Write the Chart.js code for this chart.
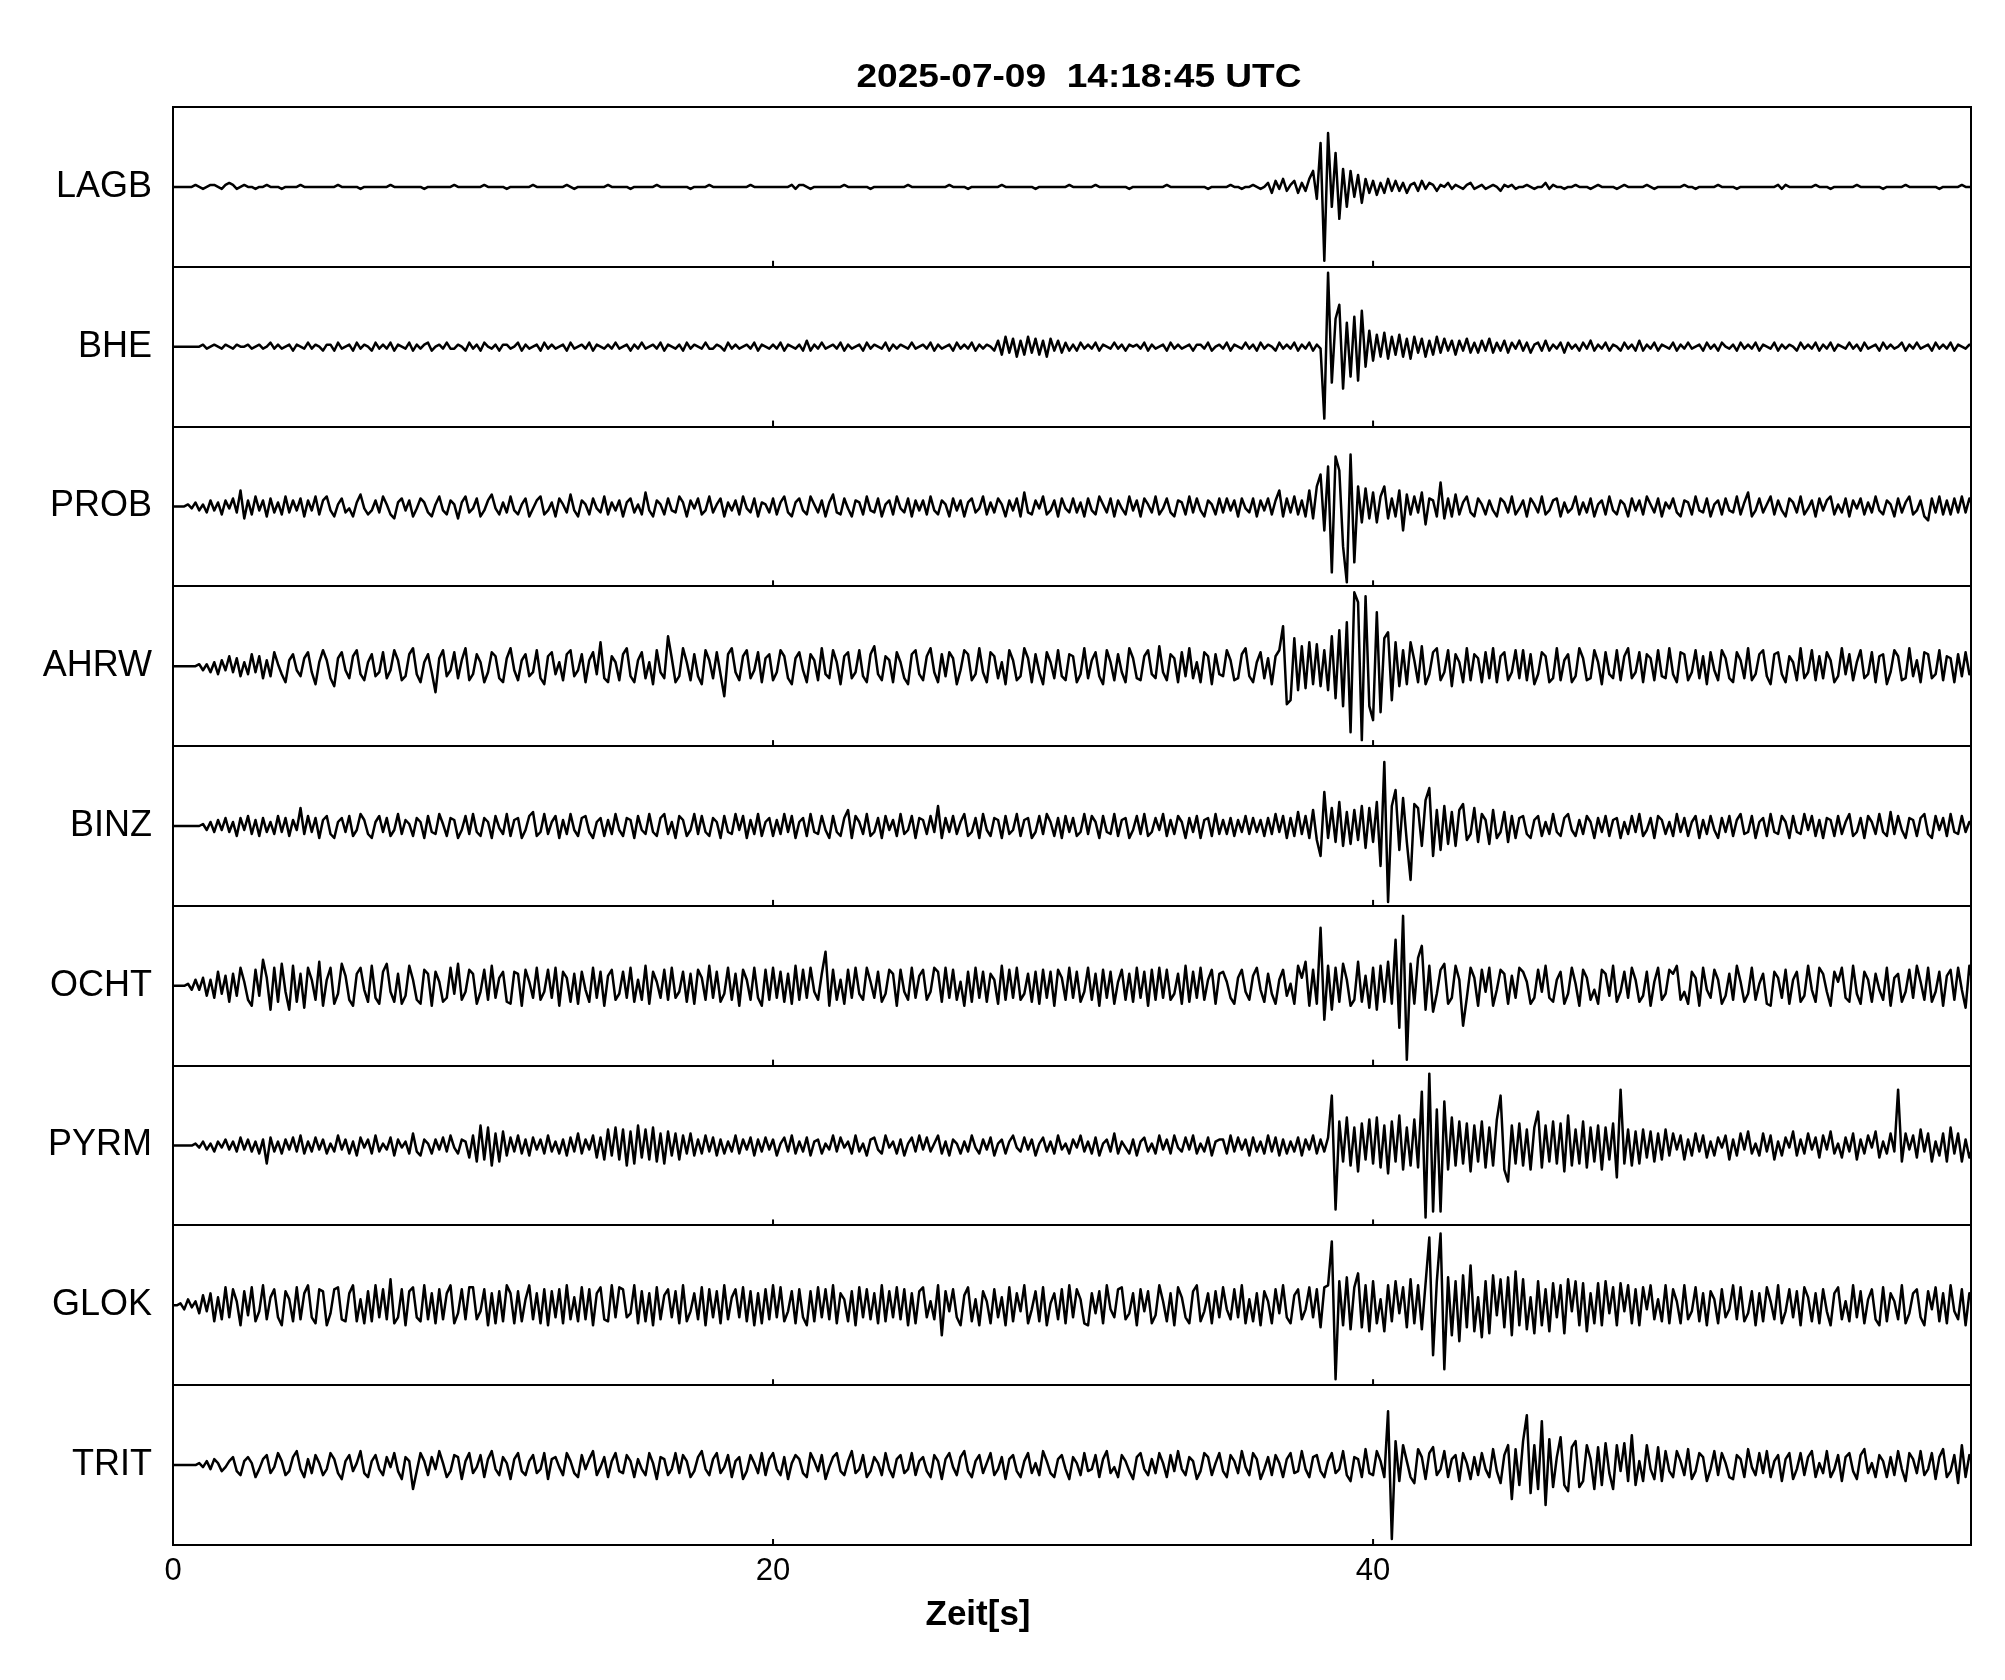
<!DOCTYPE html>
<html>
<head>
<meta charset="utf-8">
<script src="https://cdn.jsdelivr.net/npm/chart.js@4.4.1/dist/chart.umd.min.js"></script>
<style>
  html, body { margin: 0; padding: 0; background: #fff; }
  canvas { display: block; }
</style>
</head>
<body>
<canvas id="seis" width="2005" height="1680"></canvas>
<script>
const TITLE = '2025-07-09  14:18:45 UTC';
const X_LABEL = 'Zeit[s]';
const STATIONS = ['LAGB', 'BHE', 'PROB', 'AHRW', 'BINZ', 'OCHT', 'PYRM', 'GLOK', 'TRIT'];
const X_TICKS = [0, 20, 40];
const DT = 0.125;      // sample spacing of the traces (s)
const T_END = 59.93;   // right edge of the time axis (s)

// trace amplitudes, one value every DT seconds (+-40 = panel edge)
const lagb = [
  0,0,0,0,0,0,1,0, -1,0,1,1,0,-1,1,2, 1,-1,0,1,0,0,-1,0, 0,1,0,0,0,-1,0,0, 0,0,1,0,0,0,0,0,
  0,0,0,0,1,0,0,0, 0,0,-1,0,0,0,0,0, 0,0,1,0,0,0,0,0, 0,0,0,-1,0,0,0,0, 0,0,0,1,0,0,0,0,
  0,0,0,1,0,0,0,0, 0,-1,0,0,0,0,0,0, 1,0,0,0,0,0,0,0, 0,1,0,-1,0,0,0,0, 0,0,0,0,1,0,0,0,
  0,0,-1,0,0,0,0,0, 0,1,0,0,0,0,0,0, 0,0,-1,0,0,0,0,1, 0,0,0,0,0,0,0,0, 0,0,1,0,0,0,0,0,
  0,0,0,0,0,1,-1,1, 1,0,-1,0,0,0,0,0, 0,0,0,1,0,0,0,0, 0,0,-1,0,0,0,0,0, 0,0,0,0,1,0,0,0,
  0,0,0,0,0,0,0,1, 0,0,0,0,-1,0,0,0, 0,0,0,0,0,1,0,0, 0,0,0,0,0,0,-1,0, 0,0,0,0,0,0,0,1,
  0,0,0,0,0,0,1,0, 0,0,0,0,0,0,0,-1, 0,0,0,0,0,0,0,0, 0,1,0,0,0,0,0,0, 0,0,0,0,-1,0,0,0,
  0,0,1,0,0,-1,0,0, 1,0,-1,0,2,-3,3,-1, 4,-2,1,3,-3,2,-2,4, 8,-6,22,-37,27,-10,17,-16, 9,-10,8,-5,6,-8,4,-3,
  3,-4,2,-3,4,-2,3,-2, 2,-3,1,2,-2,3,-1,2, 1,-2,1,0,2,-1,1,0, -1,1,2,-1,0,1,-1,0, 1,0,-2,1,0,1,-1,0,
  0,1,0,-1,0,0,2,-1, 1,0,0,-1,0,0,1,0, 0,0,-1,0,1,0,0,0, 0,-1,0,1,0,0,0,0, 0,1,0,-1,0,0,0,0,
  0,0,0,1,0,0,-1,0, 0,0,0,0,1,0,0,0, 0,-1,0,0,0,0,0,0, 0,0,0,0,1,-1,1,0, 0,0,0,0,0,0,1,0,
  0,0,-1,0,0,0,0,0, 0,1,0,0,0,0,0,0, -1,0,0,0,0,0,1,0, 0,0,0,0,0,0,0,-1, 0,0,0,0,0,1,0,0,
  0
];
const bhe = [
  0,0,0,0,0,0,0,0, 1,-1,0,1,0,-1,1,0, -1,1,0,0,1,-1,0,1, -1,0,2,-1,1,-1,0,1, -2,1,0,-1,2,-1,1,0,
  -2,1,1,-2,2,-1,0,1, -2,2,-1,1,0,-2,2,-1, 1,-1,2,-2,1,0,-1,2, -2,1,-1,1,2,-2,0,1, -1,2,-1,-1,1,0,-2,2,
  -1,1,-2,2,0,-1,1,-2, 1,1,-1,0,2,-2,1,-1, 0,1,-2,2,-1,1,-1,0, 1,-2,2,-1,0,1,-1,2, -2,1,0,-1,1,-1,2,-1,
  0,1,-2,1,-1,2,-1,0, 1,-1,2,-2,1,0,-1,1, -2,2,-1,1,0,-1,2,-1, -1,1,0,-2,2,-1,1,-1, 0,1,-1,2,-2,1,0,-1,
  1,-1,2,-2,1,0,-1,1, -2,3,-2,1,-1,2,-1,0, 1,-1,2,-2,1,-1,0,1, -2,2,-1,1,0,-1,2,-2, 1,-1,1,0,-1,2,-1,0,
  1,-1,2,-2,1,-1,0,1, -2,2,-1,1,-1,2,-2,1, -1,1,0,-2,3,-4,5,-3, 4,-5,3,-4,5,-3,4,-4, 3,-5,4,-2,3,-3,2,-2,
  1,-2,2,-1,1,-1,2,-2, 1,0,-1,2,-1,1,-2,1, 0,1,-1,2,-2,1,-1,0, 1,-2,2,-1,1,-1,0,1, -2,1,1,-1,2,-2,0,1,
  -1,2,-2,1,0,-1,2,-1, 1,-2,2,-1,1,0,-2,2, -1,1,-1,2,-2,1,-1,2, -2,1,-1,-36,37,-18,14,21, -21,12,-15,15,-17,18,-10,8,
  -7,6,-5,7,-6,5,-4,6, -5,4,-6,5,-3,4,-5,3, -4,5,-3,4,-2,3,-4,3, -2,4,-3,2,-3,3,-2,4, -3,2,-2,3,-3,2,-1,3,
  -2,2,-3,1,2,-2,3,-2, 1,-1,2,-3,2,-1,1,-2, 2,-1,3,-2,1,-1,2,-2, 1,0,-2,2,-1,1,-2,3, -2,1,-1,2,-2,1,0,-1,
  2,-2,1,-1,2,-1,0,1, -2,2,-1,1,-2,2,0,-1, 1,-2,2,-1,1,-1,2,-2, 1,0,-1,2,-2,1,-1,1, 0,-2,2,-1,1,-1,2,-2,
  1,-1,2,-2,1,0,-1,2, -1,1,-2,2,-1,0,1,-2, 2,-1,1,-1,0,2,-2,1, -1,2,-1,0,1,-2,2,-1, 1,-1,2,-2,1,0,-1,1,
  0
];
const prob = [
  0,0,0,0,1,-1,2,-2, 1,-3,3,-2,2,-4,3,-1, 4,-3,8,-6,3,-4,5,-2, 3,-5,4,-3,2,-4,5,-3, 3,-2,4,-5,3,-2,5,-4,
  3,5,-2,-5,1,4,-3,-1, -5,2,6,-1,-4,-2,3,-3, 5,1,-4,-6,2,4,-2,3, -5,-1,4,2,-3,-5,1,5, -2,-4,3,1,-6,2,5,-3,
  -1,4,-5,-2,3,6,-1,-4, 2,-3,5,-2,-4,1,4,-5, -1,3,5,-4,-2,2,-5,4, 1,-3,6,-2,-5,3,1,-4, 4,-1,-3,5,-4,2,-2,3,
  -5,2,4,-3,1,-4,7,-2, -5,3,1,-4,4,-2,-3,5, 2,-5,3,-1,4,-4,-2,5, -3,1,4,-5,2,-2,3,-4, 5,-1,-3,4,-5,2,1,-3,
  4,-4,2,5,-3,-5,2,4, -2,-4,5,1,-3,3,-5,2, 6,-3,-4,4,-1,-5,3,2, -4,5,-2,-3,4,-5,1,3, -4,5,-1,-3,4,-5,3,-2,
  3,-4,5,-2,-4,3,1,-5, 4,-2,3,-5,2,4,-3,-1, 5,-4,2,-3,4,1,-5,3, -2,4,-5,7,-3,-4,3,-1, 5,-4,-2,3,-5,4,-1,-3,
  4,-3,2,-5,4,-2,-4,5, 1,-3,4,-5,3,-1,-4,5, -2,3,-5,4,1,-3,5,-4, -1,4,-3,-5,3,2,-4,5, -3,4,-2,-5,3,1,-4,4,
  -3,4,-2,3,-5,4,-1,-3, 4,-5,3,-2,4,-4,3,8, -5,4,-3,5,-4,3,-5,8, -6,10,16,-12,20,-33,25,18, -20,-38,26,-28,10,-8,9,-6,
  7,-8,5,10,-6,4,-5,8, -12,6,-4,5,-3,7,-9,4, 3,-5,12,-6,4,-5,6,-4, 2,5,-3,-5,4,1,-4,3, -2,-5,4,2,-3,5,-4,-1,
  3,-5,4,1,-3,5,-4,-2, 3,4,-5,2,-3,-1,5,-4, 2,-3,4,-5,1,3,-4,5, -2,-4,3,1,-5,4,-2,3, -4,5,1,-3,4,-5,2,-1,
  4,-3,-5,3,2,-4,5,-2, -3,4,-5,1,3,-4,4,-2, -3,5,-4,2,7,-5,-2,4, -3,1,5,-4,3,-2,-5,4, 2,-3,5,-4,-1,3,-5,4,
  -2,3,5,-4,1,-3,4,-5, 3,-1,4,-4,2,-3,5,-2, -4,3,1,-5,4,-3,2,5, -4,-2,3,-5,-7,4,-3,5, -4,3,-4,4,-3,5,-3,4,
  0
];
const ahrw = [
  0,0,0,0,0,0,0,1, -2,1,-3,2,-4,3,-2,5, -3,4,-5,2,-4,6,-3,5, -6,3,-5,7,1,-4,-8,3, 6,-2,-5,4,7,-3,-9,2,
  8,3,-6,-10,4,7,-2,-6, 5,8,-4,-7,2,6,-5,-3, 7,-6,-2,8,3,-7,-5,6, 9,-4,-8,2,6,-3,-13,4, 8,-5,-2,7,-6,3,9,-7,
  -4,6,2,-8,-3,7,5,-6, -8,4,9,-2,-7,3,6,-5, -3,8,-6,-9,5,7,-4,2, -7,6,8,-5,-2,6,-8,3, 7,-4,12,-6,-8,5,2,-7,
  6,9,-5,-8,3,7,-6,2, -9,8,-3,-6,15,4,-8,-5, 9,2,-7,6,-5,-9,8,3, -6,7,-4,-15,6,9,-3,-7, 5,8,-6,-2,7,-8,4,6,
  -7,-3,8,5,-6,-9,4,7, -2,-8,6,3,-7,9,-4,-6, 8,2,-9,5,7,-6,-3,8, -5,-8,6,10,-4,-7,5,3, -8,7,2,-6,-9,6,8,-4,
  -7,5,9,-3,-8,6,-5,7, 4,-9,-2,8,6,-7,-4,9, -3,-8,7,5,-6,2,-9,8, 3,-7,-5,9,4,-8,6,-3, -9,7,2,-6,8,-5,-7,6,
  5,-8,-4,9,-6,3,7,-5, -9,8,2,-7,6,-3,-8,9, 4,-6,-7,5,8,-4,-6,10, -3,-7,6,4,-8,7,-5,9, -6,2,-8,7,5,-9,6,-4,
  -5,8,3,-7,-6,6,9,-5, -8,2,7,-6,4,-9,5,8, 20,-19,-17,14,-12,10,-11,12, -9,11,-10,8,-12,15,-16,18, -20,22,-33,37,32,-37,35,-20,
  -27,27,-23,14,17,-17,12,-10, 8,-9,12,3,-8,10,-9,-4, 7,9,-7,-3,8,-10,6,2, -8,9,-7,6,4,-8,7,-6, 9,-8,5,7,-7,-3,8,-6,
  8,-7,6,-9,-4,7,5,-8, -6,9,-7,3,6,-8,-5,9, 4,-7,-6,8,2,-9,7,-4, -6,8,-7,5,9,-6,-3,7, -8,6,4,-7,8,-5,-6,9,
  -4,-8,7,6,-7,-3,8,-6, 5,-9,7,-2,-7,8,4,-6, -8,7,3,-6,9,-7,-4,6, 8,-5,-9,6,7,-4,-8,5, 2,-7,9,-6,-3,8,-7,5,
  -6,7,3,-8,-5,9,-4,6, -7,2,8,-6,-4,7,-8,5, 6,-9,-3,8,5,-7,-6,9, -5,3,-8,7,6,-6,-4,8, -7,5,4,-8,6,-5,7,-4,
  0
];
const binz = [
  0,0,0,0,0,0,0,0, 1,-2,2,-3,3,-2,4,-3, 2,-5,4,-2,5,-4,3,-5, 4,-3,2,-4,5,-3,4,-5, 3,-2,9,-4,5,-3,4,-6,
  3,5,-4,-6,2,4,-3,5, -5,-2,6,3,-4,-6,2,5, -3,4,-5,-2,6,-4,3,1, -5,4,2,-6,5,-3,-4,6, 1,-5,4,3,-6,-2,5,-4,
  6,-3,-5,4,2,-6,5,-1, -4,6,-5,3,4,-6,-2,5, 7,-5,-3,6,-4,2,5,-6, 3,-4,6,-2,-5,4,5,-3, -6,2,4,-5,3,-4,6,-2,
  -5,4,3,-6,5,-2,-4,6, -3,-5,4,6,-4,2,-6,5, 3,-5,-2,6,-4,5,-3,-5, 4,2,-6,5,-3,-4,6,-2, 5,-6,3,-4,6,-5,2,4,
  -5,3,-4,6,-3,5,-6,2, 4,-5,6,-3,-4,5,-2,-6, 5,-3,-5,4,8,-6,5,2, -4,6,-5,-3,4,-6,5,-2, 3,-5,6,-4,-2,5,-6,4,
  3,-4,5,-3,10,-6,4,-3, 5,-4,2,6,-5,-3,4,-6, 6,-2,-5,4,3,-6,5,-4, -2,6,-5,3,4,-6,-3,5, -4,6,2,-5,4,-6,5,-3,
  4,-5,-3,6,-4,5,2,-6, 5,-3,-4,6,-5,3,4,-6, -2,5,-4,6,-5,-3,4,-2, 6,-5,3,-4,5,2,-6,4, -3,5,-6,3,4,-5,6,-4,
  3,-4,4,-5,3,-3,5,-4, 4,-3,3,-5,4,-4,6,-3, 5,-6,4,-5,7,-4,5,-6, 8,-7,-15,17,-6,9,-8,12, -10,7,-9,8,-7,10,-11,9,
  -8,12,-20,32,-38,10,18,-12, 14,-8,-27,11,9,-10,13,19, -15,8,-12,10,-9,7,-10,8, 11,-7,-4,9,-8,6,3,-9, 8,-6,-3,7,-8,5,-6,4,
  5,-4,-6,3,5,-5,2,-4, 6,-3,-5,4,6,-2,-5,3, -4,5,2,-6,4,-3,5,-5, 3,4,-6,2,-4,5,-3,6, -5,-2,4,-6,5,3,-4,2,
  -5,6,-3,4,-5,2,5,-6, 3,-4,5,-2,-6,4,-3,5, -5,3,6,-4,-3,5,-6,2, 4,-5,6,-3,-4,5,2,-6, 5,-3,-4,6,-2,5,-5,3,
  -6,4,3,-5,5,-4,2,6, -5,-3,4,-6,5,2,-4,6, -3,-5,7,-4,5,-2,-6,4, 3,-5,4,6,-4,-6,5,-2, 4,-5,6,-3,-4,5,-3,2,
  0
];
const ocht = [
  0,0,0,0,1,-2,3,-2, 4,-5,3,-6,7,-4,5,-8, 6,-5,9,2,-7,-10,8,-5, 13,4,-12,9,-8,11,-3,-12, 10,-8,6,-11,9,3,-7,12,
  -10,3,9,-9,-4,11,5,-7, -10,6,9,-2,-8,10,-6,-9, 7,11,-3,-8,6,-9,-5,10, 3,-7,-9,8,6,-10,7,2, -8,-6,9,-4,11,-7,-3,8,
  6,-9,-3,8,-7,10,-6,4, 7,-8,-9,7,6,-10,8,2, -6,9,-7,-3,8,-6,9,-10, 7,4,-8,6,-9,7,-2,-8, 9,-6,7,-10,5,8,-7,-4,
  7,-6,9,-8,3,-7,10,-9, 7,2,-6,8,-7,9,-6,-3, 7,-8,6,-9,8,4,-7,10, -6,7,-8,-4,9,-7,6,-10, 8,3,-7,9,-6,-10,8,-7,
  9,-6,7,-8,6,-9,10,-7, 8,-6,9,-3,-7,6,17,-10, 8,-7,3,-9,8,-6,9,-4, -7,9,2,-6,7,-8,-4,8, 6,-10,8,-3,-7,9,-6,5,
  8,-7,-3,9,7,-8,9,-6, 8,-7,2,-10,7,-8,9,-6, 7,-8,6,3,-9,10,-7,8, -6,9,-7,-4,6,-8,7,-9, 8,-6,7,-10,8,4,-7,9,
  -6,7,-8,-3,9,-7,6,-10, 8,-6,7,-9,2,8,-7,6, -8,9,-6,7,-10,8,-7,9, -6,8,-7,-4,6,-9,10,-8, 7,-6,9,-7,3,8,-9,6,
  7,2,-6,-9,4,8,-3,-7, 5,9,-2,-8,6,-4,-9,3, 8,-5,1,-9,10,4,12,-10, 8,-9,29,-17,10,-12,9,-8, 11,3,-10,-7,12,-8,5,-11,
  9,-12,10,-8,12,-9,23,-21, 35,-37,11,-9,14,20,-12,10, -13,-4,8,11,-9,-6,10,3, -20,-6,9,4,-10,8,-3,9, -10,-2,8,6,-9,5,-6,9,
  7,2,-9,-6,8,-3,10,-6, -8,3,7,-9,-4,9,1,-10, 8,4,-7,-2,-9,8,6,-5, 10,-8,-3,7,-6,9,3,-8, -5,7,-10,2,9,-7,-4,8,
  6,10,-7,-3,-9,7,4,-10, 9,-2,-6,8,3,-9,-5,6, -7,10,2,-8,-4,9,-7,1, 6,-9,-10,7,4,-6,8,-9, 3,7,-8,-5,10,-2,-8,9,
  6,-3,-10,7,2,9,-6,-8, 10,-4,-9,7,3,-8,6,-2, -7,9,-10,4,6,-8,-3,8, -6,10,2,-7,9,-8,-3,7, -10,5,8,-7,9,-2,-11,10,
  0
];
const pyrm = [
  0,0,0,0,0,0,1,-1, 2,-2,1,-3,2,-1,3,-2, 2,-3,4,-2,3,-3,2,-4, 3,-9,4,-3,2,-4,3,-2, 4,-3,5,-4,2,-3,4,-2,
  3,-4,1,-3,5,-2,3,-4, 2,-5,4,-1,3,-4,5,-3, 1,-2,4,-5,3,-1,2,-4, 6,-3,-5,3,1,-4,3,-2, 4,-3,5,-1,-4,3,2,-6,
  5,-8,10,-7,9,-10,6,-8, 7,-5,4,-3,5,-4,3,-5, 4,-2,3,-4,5,-3,2,-4, 3,-5,4,-3,6,-4,3,-2, 5,-6,4,-7,8,-5,9,-7,
  8,-10,7,-9,10,-6,8,-7, 9,-8,6,-9,7,-5,6,-7, 5,-4,6,-5,3,-4,5,-3, 4,-5,3,-4,2,-3,5,-4, 3,-2,4,-5,3,-3,4,-2,
  3,-5,1,4,-3,5,-4,2, -3,4,-5,2,3,-4,1,-2, 5,-3,4,-1,2,-4,5,-3, 1,-5,3,4,-2,-4,5,-1, 2,-4,3,-5,1,4,-3,5,
  -2,4,-3,1,5,-4,2,-5, 3,1,-4,2,-3,5,-1,-4, 3,-2,4,-5,1,3,-4,2, 5,-1,-3,4,-2,3,-5,1, 4,-3,2,-4,5,-2,1,-4,
  3,-1,5,-3,2,-4,4,-5, 1,3,-3,6,-4,2,-1,-4, 3,-5,2,4,-3,1,-4,5, -2,3,-4,5,-1,-3,4,-2, 5,-4,1,-3,4,-5,2,3,
  3,-4,5,-3,4,-2,3,-5, 4,-3,2,-4,5,-3,4,-5, 3,-4,2,-3,4,-5,3,-2, 5,-4,3,-3,4,25,-32,12, -8,14,-10,9,-13,11,-7,13,
  -9,14,-11,10,-14,12,-8,15, -12,9,-10,13,-11,27,-36,36, -33,18,-33,22,-12,14,-10,12, -9,11,-13,10,-8,12,-11,9, -10,13,25,-12,-18,10,-9,11,
  -10,8,-12,9,17,-11,10,-8, 12,-9,11,-13,15,-10,8,-9, 12,-11,9,-8,10,-12,9,-7, 11,-16,28,-9,8,-10,7,-9, 8,-6,7,-8,6,-7,8,-5,
  6,-2,5,-7,3,-5,6,-3, 5,-6,2,-5,4,-1,5,-7, 3,-5,6,-2,7,-4,1,-5, 6,-3,5,-7,2,-5,4,-1, 7,-5,3,-4,6,-2,4,-6,
  5,-2,7,-4,1,-6,4,-3, 6,-7,3,-4,5,-1,7,-6, 2,-4,6,-3,28,-8,6,-2, 5,-6,8,-3,6,-8,2,-5, 6,-8,9,-4,6,-8,3,-6,
  0
];
const glok = [
  0,0,1,-2,3,-1,2,-4, 5,-3,6,-8,4,-7,9,-6, 8,2,-10,7,-5,9,-8,-3, 10,-7,4,8,-6,-10,7,3, -8,9,-7,6,10,-6,-9,8,
  7,-10,-4,8,9,-7,-8,6, 10,-8,3,-9,7,-8,10,-6, 8,-7,13,-9,-6,8,-10,7, 9,-6,-8,10,-7,6,-9,8, -7,6,10,-9,-4,8,-7,9,
  9,-7,-3,8,-10,6,-9,7, -8,10,6,-9,7,-8,3,10, -7,6,-9,8,-10,7,-6,8, -9,10,-7,4,-8,9,-7,8, -10,6,9,-7,-8,10,-6,9,
  8,-6,-4,10,-9,7,-8,6, -10,9,-7,5,8,-6,7,-9, 10,-8,-3,6,-7,9,-10,8, -6,7,-9,10,-7,4,8,-6, 9,-8,7,-10,6,-9,8,-7,
  10,-6,9,-8,-3,7,-9,8, -6,-10,7,-8,9,-6,8,-7, 10,-9,6,3,-8,7,-10,9, -6,8,-7,6,-9,10,-8,7, -6,9,-7,8,-10,6,-9,7,
  9,-6,2,-7,10,-15,7,-3, 8,-6,-10,5,9,-8,3,-10, 7,2,-9,8,-6,4,-10,9, -8,6,-3,10,-9,-2,7,-8, 9,-10,1,6,-7,8,-9,10,
  -6,8,3,-9,-10,6,-4,7, -9,10,-2,-6,8,9,-7,-4, 6,-10,8,-3,7,-9,-5,10, 2,-8,6,-10,9,4,-6,-9, 7,10,-8,-3,6,-9,7,-6,
  9,-2,-7,8,-6,10,-9,3, -8,6,-10,7,2,-9,8,-4, 10,-6,-9,5,8,-7,-2,9, -6,8,-11,9,10,32,-37,12, -10,14,-12,9,16,-11,10,-13,
  12,-9,3,-13,10,-8,12,-4, 9,-11,13,-9,10,-12,11,34, -25,12,36,-32,14,-15,12,-18, 15,-11,20,-13,4,-16,12,-14, 15,-5,13,-11,14,-15,17,-10,
  13,-12,4,-14,12,-10,8,-13, 11,-6,10,-14,13,-3,12,-10, 11,-13,6,-9,11,-10,12,-4, 9,-10,11,-3,10,-9,8,-10, 9,-2,10,-7,3,-8,10,-9,
  8,2,-9,10,-7,-3,9,-8, 6,-10,7,3,-9,8,-6,-2, 10,-7,9,-8,-4,7,-10,6, -8,9,2,-7,10,-9,-3,8, -6,7,-10,9,4,-8,6,-9,
  8,-3,-10,6,9,-7,2,-8, 10,-6,7,-9,3,8,-7,-10, 9,-8,6,2,-7,10,-9,-4, 6,8,-6,-10,7,-2,9,-8, 6,-9,10,-3,-7,8,-10,6,
  0
];
const trit = [
  0,0,0,0,0,0,0,1, -1,2,-2,3,1,-3,-1,2, 4,-3,-5,2,4,1,-6,-2, 3,5,-4,-1,6,2,-5,-3, 4,7,-2,-6,3,-4,5,1,
  -5,-2,6,3,-4,-7,2,5, -3,1,7,-4,-6,2,5,-2, -5,4,-1,6,-3,-7,4,2, -12,-3,6,2,-5,4,-2,7, 1,-6,-3,5,4,-7,2,6,
  -4,-1,5,-6,3,7,-2,-5, 4,1,-7,3,6,-3,-5,2, 5,-4,-2,6,-7,3,4,-1, -5,6,2,-4,-6,5,-2,3, 7,-5,-1,4,-6,2,6,-3,
  -4,5,2,-6,3,-2,-5,6, 1,-7,4,3,-5,-2,6,-4, 5,2,-6,-3,4,7,-2,-5, 3,6,-4,-1,5,-6,2,4, -7,-3,5,1,-4,6,-5,3,
  6,-2,-5,4,-7,1,5,3, -4,-6,6,2,-3,5,-7,-1, 4,6,-3,-5,2,7,-4,-2, 5,-6,-3,4,1,-5,6,-2, -6,3,5,-4,-2,6,-5,2,
  4,-3,-6,5,2,-7,3,6, -1,-5,4,7,-3,-6,2,5, -4,1,6,-5,-2,4,-7,3, 5,-3,-6,2,6,-4,1,-5, 7,2,-4,-6,3,5,-2,-7,
  4,1,-5,6,-3,-2,5,-6, 3,7,-4,-1,-6,5,2,-3, -7,4,6,-2,-5,3,-4,6, 1,-6,5,-3,7,-2,-5,4, 2,-7,-3,6,4,-5,1,6,
  -3,-6,5,2,-4,7,-1,-5, 6,3,-7,-2,4,-5,5,1, -6,3,6,-4,-3,7,-2,-6, 4,5,-3,-6,2,6,-4,-2, 7,-5,-8,4,3,-6,8,-4,
  -5,7,2,-6,27,-37,12,-8, 10,2,-6,-9,8,4,-7,6, 9,-5,-2,7,-6,3,5,-8, 6,1,-7,4,-5,6,-2,-6, 8,-3,-9,5,10,-17,8,-10,
  12,25,-14,10,-12,22,-20,13, -11,4,14,-10,-13,9,12,-11, -8,10,3,-12,9,-10,11,-4, -12,10,-3,11,-8,15,-10,2, -8,10,-2,-7,9,-8,7,-3,
  -6,7,2,-5,8,-7,-3,6, 4,-8,-2,7,-5,6,1,-6, -7,5,3,-6,8,-1,-5,6, -4,7,-6,2,5,-8,3,6, -7,-2,6,-5,4,7,-6,1,
  -4,7,-6,-2,5,-8,4,6, -3,-7,5,8,-4,1,-6,5, 2,-6,4,-5,7,-2,-8,6, 3,-4,7,-5,-2,6,-7,4, 8,-6,-3,5,-9,10,-6,5,
  0
];
const TRACES = [lagb, bhe, prob, ahrw, binz, ocht, pyrm, glok, trit];

const FONT = '"Liberation Sans", Arial, Helvetica, sans-serif';

// one y axis per station, stacked top to bottom
const scales = {
  x: {
    type: 'linear',
    min: 0,
    max: T_END,
    afterBuildTicks: (s) => { s.ticks = X_TICKS.map((v) => ({ value: v })); },
    afterFit: (s) => { s.height = 135; },
    grid: { display: false, drawTicks: false },
    border: { display: false },
    ticks: { padding: 8, color: '#000', autoSkip: false, maxRotation: 0, font: { family: FONT, size: 31 } },
  },
};
STATIONS.forEach((name, k) => {
  scales['y' + k] = {
    type: 'linear',
    position: 'left',
    stack: 'traces',
    stackWeight: 1,
    weight: STATIONS.length - k,
    min: -40,
    max: 40,
    afterBuildTicks: (s) => { s.ticks = [{ value: -40 }, { value: 0 }, { value: 40 }]; },
    afterFit: (s) => { s.width = 173; },
    grid: {
      drawTicks: false,
      lineWidth: 2,
      color: (c) => (c.tick && c.tick.value === 0 ? 'rgba(0,0,0,0)' : '#000'),
    },
    border: { display: true, color: '#000', width: 2 },
    ticks: {
      padding: 21,
      color: '#000',
      autoSkip: false,
      font: { family: FONT, size: 36 },
      callback: (v) => (v === 0 ? name : ''),
    },
  };
});

const datasets = TRACES.map((vals, k) => ({
  label: STATIONS[k],
  data: vals.map((v, i) => ({ x: i * DT, y: v })),
  xAxisID: 'x',
  yAxisID: 'y' + k,
  borderColor: '#000',
  borderWidth: 2.5,
  borderJoinStyle: 'round',
  pointRadius: 0,
  tension: 0,
  fill: false,
}));

// frame, inward ticks, title and axis label
const framePlugin = {
  id: 'frame',
  afterDraw(chart) {
    const { ctx, chartArea: a } = chart;
    ctx.save();
    ctx.strokeStyle = '#000';
    ctx.lineWidth = 2;
    ctx.strokeRect(a.left, a.top, a.right - a.left, a.bottom - a.top);

    STATIONS.forEach((s, k) => {
      const y = chart.scales['y' + k].getPixelForValue(-40);
      X_TICKS.forEach((v) => {
        if (v === 0) return;
        const x = chart.scales.x.getPixelForValue(v);
        ctx.beginPath();
        ctx.moveTo(x, y);
        ctx.lineTo(x, y - 6);
        ctx.stroke();
      });
    });

    ctx.fillStyle = '#000';
    ctx.textAlign = 'center';
    ctx.textBaseline = 'alphabetic';

    ctx.font = 'bold 33px ' + FONT;
    const w = ctx.measureText(TITLE).width;
    ctx.save();
    ctx.translate((a.left + a.right) / 2 + 7, a.top - 20);
    ctx.scale(445 / w, 1);
    ctx.fillText(TITLE, 0, 0);
    ctx.restore();

    ctx.font = 'bold 35px ' + FONT;
    ctx.fillText(X_LABEL, a.left + 805, a.bottom + 80);
    ctx.restore();
  },
};

new Chart(document.getElementById('seis'), {
  type: 'line',
  data: { datasets },
  options: {
    responsive: false,
    animation: false,
    devicePixelRatio: 1,
    layout: { padding: { top: 107, right: 34, bottom: 0, left: 0 } },
    plugins: { legend: { display: false }, tooltip: { enabled: false }, title: { display: false } },
    scales,
  },
  plugins: [framePlugin],
});
</script>
</body>
</html>
